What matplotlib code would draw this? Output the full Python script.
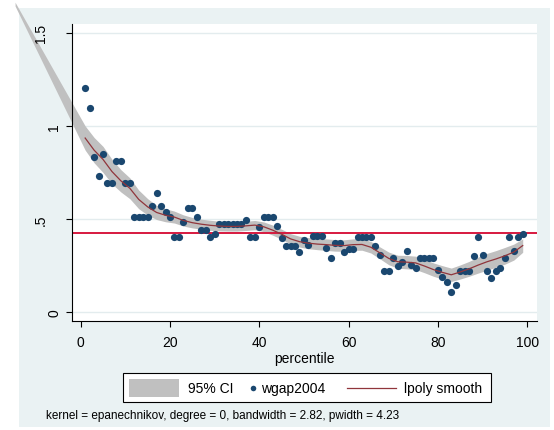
import matplotlib
matplotlib.use("Agg")
import matplotlib.pyplot as plt
from matplotlib.patches import Rectangle
from matplotlib.lines import Line2D
from matplotlib.transforms import ScaledTranslation
import numpy as np

plt.rcParams['font.family'] = ['Liberation Sans', 'DejaVu Sans']

# ---- data -------------------------------------------------------------
percentile = list(range(1, 100))
wgap2004 = [
    1.203, 1.097, 0.835, 0.733, 0.849, 0.694, 0.694, 0.812, 0.812, 0.694,
    0.694, 0.509, 0.509, 0.509, 0.509, 0.568, 0.641, 0.568, 0.539, 0.509,
    0.405, 0.405, 0.484, 0.559, 0.559, 0.511, 0.441, 0.441, 0.405, 0.419,
    0.473, 0.473, 0.473, 0.473, 0.473, 0.473, 0.493, 0.405, 0.405, 0.457,
    0.511, 0.511, 0.511, 0.462, 0.400, 0.357, 0.357, 0.357, 0.323, 0.387,
    0.360, 0.407, 0.407, 0.407, 0.342, 0.289, 0.369, 0.369, 0.321, 0.339,
    0.339, 0.405, 0.405, 0.405, 0.405, 0.357, 0.306, 0.222, 0.222, 0.290,
    0.249, 0.270, 0.326, 0.253, 0.237, 0.289, 0.289, 0.289, 0.289, 0.226,
    0.190, 0.160, 0.106, 0.145, 0.222, 0.222, 0.222, 0.300, 0.405, 0.306,
    0.222, 0.181, 0.222, 0.235, 0.289, 0.405, 0.330, 0.405, 0.418,
]

# local polynomial smooth evaluated on a grid of 50 points
grid_x = list(range(1, 100, 2))
smooth = [
    0.935, 0.870, 0.820, 0.755, 0.705, 0.665, 0.605, 0.565, 0.535, 0.520,
    0.510, 0.492, 0.480, 0.472, 0.466, 0.462, 0.460, 0.460, 0.463, 0.467,
    0.458, 0.440, 0.418, 0.393, 0.378, 0.370, 0.365, 0.362, 0.358, 0.357,
    0.362, 0.363, 0.348, 0.318, 0.288, 0.270, 0.268, 0.264, 0.247, 0.228,
    0.213, 0.200, 0.215, 0.232, 0.252, 0.270, 0.285, 0.302, 0.322, 0.357,
]
ci_halfwidth = [
    0.065, 0.068, 0.070, 0.066, 0.060, 0.056, 0.050, 0.044, 0.038, 0.035,
    0.032, 0.030, 0.028, 0.027, 0.027, 0.026, 0.025, 0.025, 0.025, 0.025,
    0.026, 0.027, 0.027, 0.028, 0.029, 0.030, 0.030, 0.031, 0.031, 0.031,
    0.031, 0.031, 0.031, 0.032, 0.034, 0.035, 0.036, 0.036, 0.036, 0.036,
    0.036, 0.036, 0.038, 0.040, 0.043, 0.045, 0.045, 0.045, 0.043, 0.036,
]
# leading vertex of the confidence band (lies outside the plot region)
band_start_x = -14.7
band_start_lo = 1.645
band_start_hi = 1.665

reference_level = 0.425

x_ticks = [0, 20, 40, 60, 80, 100]
x_ticklabels = ["0", "20", "40", "60", "80", "100"]
y_ticks = [0, 0.5, 1, 1.5]
y_ticklabels = ["0", ".5", "1", "1.5"]
x_title = "percentile"
legend_labels = ["95% CI", "wgap2004", "lpoly smooth"]
note_text = "kernel = epanechnikov, degree = 0, bandwidth = 2.82, pwidth = 4.23"

# ---- colours ----------------------------------------------------------
c_region = "#EAF2F3"
c_grid = "#E3ECEE"
c_band = "#C0C0C0"
c_points = "#1A476F"
c_smooth = "#90353B"
c_ref = "#D7193F"

W, H = 554, 431
fig = plt.figure(figsize=(W / 100, H / 100), dpi=100)
fig.patch.set_facecolor("white")


def fx(px):
    return px / W


def fy(py):
    return 1 - py / H


# graph region background
fig.add_artist(Rectangle((fx(19), fy(428)), fx(550) - fx(19), fy(9) - fy(428),
                         transform=fig.transFigure, facecolor=c_region,
                         edgecolor="none", zorder=0))

ax = fig.add_axes([fx(72), fy(322), fx(537) - fx(72), fy(25) - fy(322)])
ax.set_facecolor("white")
ax.set_xlim(-1.95, 102.2)
ax.set_ylim(-0.0484, 1.548)

for s in ["top", "right"]:
    ax.spines[s].set_visible(False)
for s in ["left", "bottom"]:
    ax.spines[s].set_color("black")
    ax.spines[s].set_linewidth(0.8)

ax.set_yticks(y_ticks)
ax.set_yticklabels(y_ticklabels, rotation=90, va="center", fontsize=10)
ax.set_xticks(x_ticks)
ax.set_xticklabels(x_ticklabels, fontsize=10)
ax.tick_params(axis="y", length=4.3, width=0.8, pad=3.5)
ax.tick_params(axis="x", length=4.3, width=0.8, pad=6.0)
ax.set_xlabel(x_title, fontsize=10, labelpad=1)

for yv in y_ticks:
    ax.axhline(yv, color=c_grid, lw=1.0, zorder=0.5)

# confidence band
band_x = np.array([band_start_x] + grid_x, dtype=float)
sm = np.array(smooth)
hw = np.array(ci_halfwidth)
band_lo = np.concatenate([[band_start_lo], sm - hw])
band_hi = np.concatenate([[band_start_hi], sm + hw])
band = ax.fill_between(band_x, band_lo, band_hi, color=c_band, lw=0, zorder=1)
band.set_clip_on(False)

ax.axhline(reference_level, color=c_ref, lw=1.4, zorder=2)
ax.plot(percentile, wgap2004, "o", color=c_points, ms=5.2, mew=0, zorder=3)
ax.plot(grid_x, smooth, color=c_smooth, lw=0.9, zorder=4)

# shift dotted y labels the way they are set
for lab in ax.get_yticklabels():
    if "." in lab.get_text():
        lab.set_transform(lab.get_transform() +
                          ScaledTranslation(-13 / 100, 0, fig.dpi_scale_trans))

# ---- legend -------------------------------------------------------------
leg_y = 388.7
fig.add_artist(Rectangle((fx(122.6), fy(402.9)), fx(490.6) - fx(122.6),
                         fy(374.4) - fy(402.9), transform=fig.transFigure,
                         facecolor="white", edgecolor="black", lw=0.8, zorder=2))
fig.add_artist(Rectangle((fx(128.7), fy(397.5)), fx(178.5) - fx(128.7),
                         fy(379.8) - fy(397.5), transform=fig.transFigure,
                         facecolor=c_band, edgecolor="none", zorder=3))
fig.text(fx(188.4), fy(leg_y), legend_labels[0], fontsize=10, va="center",
         ha="left", zorder=3)
fig.add_artist(Line2D([fx(253.1)], [fy(leg_y)], marker="o", ms=4, mew=0,
                      color=c_points, transform=fig.transFigure, zorder=3))
fig.text(fx(261.3), fy(leg_y), legend_labels[1], fontsize=10, va="center",
         ha="left", zorder=3)
fig.add_artist(Line2D([fx(346.6), fx(396.4)], [fy(leg_y), fy(leg_y)],
                      color=c_smooth, lw=0.9, transform=fig.transFigure, zorder=3))
fig.text(fx(403.5), fy(leg_y), legend_labels[2], fontsize=10, va="center",
         ha="left", zorder=3)

fig.text(fx(46), fy(416), note_text, fontsize=8.5, va="center", ha="left")

fig.savefig("out.png", dpi=100, facecolor="white")
